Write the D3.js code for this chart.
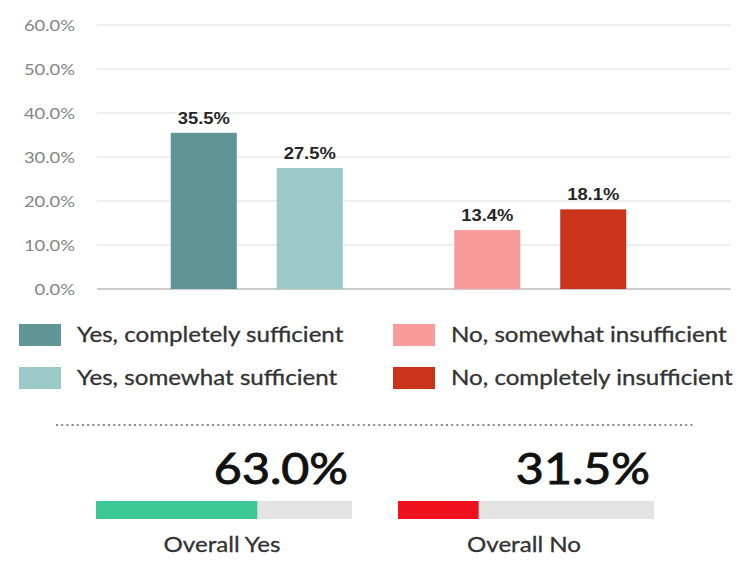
<!DOCTYPE html>
<html>
<head>
<meta charset="utf-8">
<script src="https://cdn.jsdelivr.net/npm/d3@7"></script>
<style>
  html, body { margin: 0; padding: 0; background: #fff; }
  svg { display: block; }
</style>
</head>
<body>
<svg id="chart" width="741" height="562"></svg>
<script>
// Survey answers: is the support sufficient?
const groups = ["Yes", "No"];
const categories = [
  "Yes, completely sufficient",
  "Yes, somewhat sufficient",
  "No, somewhat insufficient",
  "No, completely insufficient"
];
const categoryGroup = ["Yes", "Yes", "No", "No"];
const values = [35.5, 27.5, 13.4, 18.1];
const colors = ["#5f9594", "#9ac9c8", "#f99b9b", "#c9341b"];
const yTicks = [0, 10, 20, 30, 40, 50, 60];

// Overall totals
const overallLabels = ["Overall Yes", "Overall No"];
const overallValues = [63.0, 31.5];
const overallColors = ["#3ec898", "#ef111e"];

// The artwork uses horizontally widened lettering
const stretch = 1.15;
const widen = (x, y) => `translate(${x},${y}) scale(${stretch},1)`;

const svg = d3.select("#chart");

// ---- Grouped bar chart ----
const y = d3.scaleLinear().domain([0, 60]).range([289, 25]);
const gridLeft = 97, gridRight = 731;

const x0 = d3.scaleBand().domain(groups).range([115, 682]);
const x1 = d3.scaleBand().domain([0, 1]).range([0, x0.bandwidth()])
  .paddingInner(0.377).paddingOuter(0.526);

const fmt = v => v.toFixed(1) + "%";

const grid = svg.append("g");
grid.selectAll("line").data(yTicks).join("line")
  .attr("x1", gridLeft).attr("x2", gridRight)
  .attr("y1", d => y(d)).attr("y2", d => y(d))
  .attr("stroke", d => d === 0 ? "#cccccc" : "#e9e9e9")
  .attr("stroke-width", d => d === 0 ? 2 : 1.5);

const yAxis = d3.axisLeft(y).tickValues(yTicks).tickFormat(fmt).tickSize(0).tickPadding(0);
const axisG = svg.append("g").attr("transform", "translate(75,0)").call(yAxis);
axisG.select(".domain").remove();
axisG.selectAll("text")
  .attr("x", 0)
  .attr("transform", `scale(${stretch},1)`)
  .attr("font-family", "Lato, sans-serif")
  .attr("font-size", 16)
  .attr("fill", "#858585")
  .attr("dy", "0.36em");

const bars = categories.map((c, i) => ({
  cat: c, group: categoryGroup[i], value: values[i], color: colors[i],
  idx: categoryGroup.slice(0, i).filter(g => g === categoryGroup[i]).length
}));

const barX = d => x0(d.group) + x1(d.idx);

svg.append("g").selectAll("rect").data(bars).join("rect")
  .attr("x", barX)
  .attr("width", x1.bandwidth())
  .attr("y", d => y(d.value))
  .attr("height", d => y(0) - y(d.value))
  .attr("fill", d => d.color);

svg.append("g").selectAll("text").data(bars).join("text")
  .attr("transform", d => widen(barX(d) + x1.bandwidth() / 2, y(d.value) - 9))
  .attr("text-anchor", "middle")
  .attr("font-family", "'Liberation Sans', Arial, sans-serif")
  .attr("font-weight", "bold")
  .attr("font-size", 16)
  .attr("fill", "#262626")
  .text(d => fmt(d.value));

// ---- Legend (two columns) ----
const legendCols = [19, 393];
const legendRows = [324, 367];
const legend = svg.append("g").selectAll("g").data(bars).join("g")
  .attr("transform", (d, i) => `translate(${legendCols[Math.floor(i / 2)]},${legendRows[i % 2]})`);
legend.append("rect").attr("width", 42).attr("height", 22).attr("fill", d => d.color);
legend.append("text")
  .attr("transform", widen(58, 11))
  .attr("dy", "0.35em")
  .attr("font-family", "Lato, sans-serif")
  .attr("font-size", 21)
  .attr("fill", "#333")
  .attr("stroke", "#333").attr("stroke-width", 0.3)
  .text(d => d.cat);

// ---- Dotted separator ----
svg.append("line")
  .attr("x1", 56).attr("x2", 694).attr("y1", 425).attr("y2", 425)
  .attr("stroke", "#8a8a8a").attr("stroke-width", 2)
  .attr("stroke-dasharray", "2 3.2");

// ---- Overall totals ----
const bx = d3.scaleBand().domain(overallLabels).range([96, 654]).paddingInner(0.1523);
const barW = d3.scaleLinear().domain([0, 100]).range([0, bx.bandwidth()]);

const totals = overallLabels.map((l, i) => ({ label: l, value: overallValues[i], color: overallColors[i] }));
const tg = svg.append("g").selectAll("g").data(totals).join("g")
  .attr("transform", d => `translate(${bx(d.label)},0)`);

tg.append("rect")
  .attr("y", 501).attr("height", 18)
  .attr("width", bx.bandwidth())
  .attr("fill", "#e3e3e3");
tg.append("rect")
  .attr("y", 501).attr("height", 18)
  .attr("width", d => barW(d.value))
  .attr("fill", d => d.color);
tg.append("text")
  .attr("transform", widen(bx.bandwidth() - 4, 484))
  .attr("text-anchor", "end")
  .attr("font-family", "Lato, sans-serif")
  .attr("font-size", 42)
  .attr("fill", "#111")
  .attr("stroke", "#111").attr("stroke-width", 0.9)
  .text(d => fmt(d.value));
tg.append("text")
  .attr("transform", widen(bx.bandwidth() / 2 - 2, 552))
  .attr("text-anchor", "middle")
  .attr("font-family", "Lato, sans-serif")
  .attr("font-size", 21)
  .attr("fill", "#333")
  .attr("stroke", "#333").attr("stroke-width", 0.3)
  .text(d => d.label);
</script>
</body>
</html>
